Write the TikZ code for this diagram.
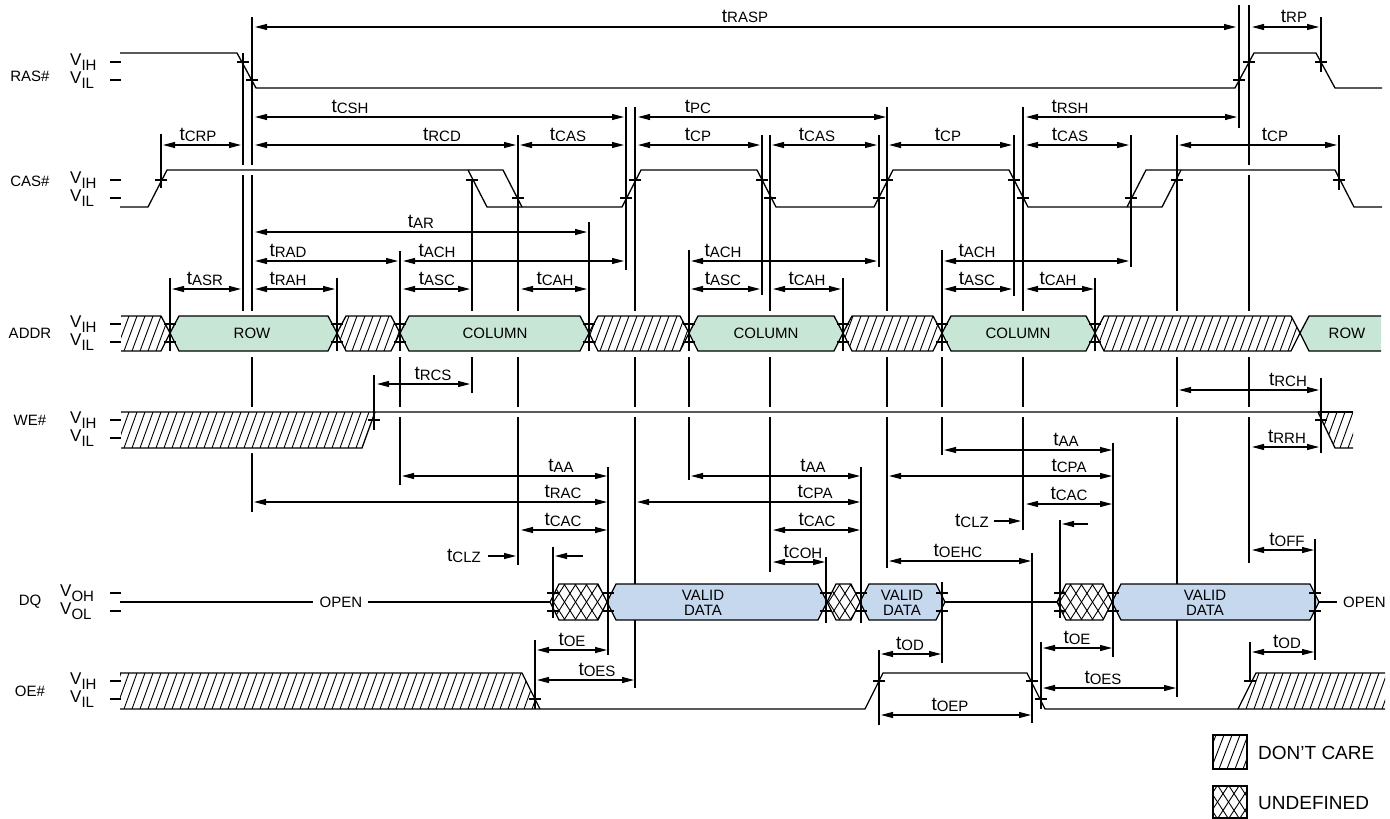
\documentclass[tikz,border=0pt]{standalone}
\usepackage{fontspec}
\setmainfont{Liberation Sans}
\usetikzlibrary{arrows.meta}
\definecolor{AddrGreen}{RGB}{200,230,214}
\definecolor{DataBlue}{RGB}{197,216,238}
\newcommand{\tsub}[1]{{\fontsize{19}{19}\selectfont t}\raisebox{-1pt}{#1}}
\newcommand{\vsub}[1]{{\fontsize{17}{17}\selectfont V}\raisebox{-5pt}{#1}}

\begin{document}
\begin{tikzpicture}[x=1pt, y=-1pt,
    every node/.style={font=\fontsize{15}{15}\selectfont, inner sep=0pt},
    sig/.style={line width=1.3pt},
    refl/.style={line width=1.1pt},
    hl/.style={line width=0.9pt},
    dim/.style={line width=1.1pt, {Triangle[length=12pt,width=6pt]}-{Triangle[length=12pt,width=6pt]}},
    ptr/.style={line width=1.1pt, -{Triangle[length=12pt,width=6pt]}},
    lbl/.style={anchor=base}]
  \useasboundingbox (0,0) rectangle (1390,819);

  % Lineas de referencia
  \foreach \x/\a/\b in {161/134/188, 243/53/311, 252/17/512, 374/375/430, 400/357/485,
      472/180/393, 518/135/565, 626/107/270, 635/107/688, 689/357/480, 762/135/295,
      770/135/572, 879/135/267, 887/107/568, 942/357/455, 942/582/663, 1014/135/296,
      1023/107/530, 1032/553/723, 1060/520/602, 1113/443/657, 1131/135/267,
      1177/135/697, 1239/5/128, 1249/5/563, 1321/17/72, 1321/378/453, 1339/135/190,
      1315/539/660, 1250/642/681, 553/547/602, 608/467/655, 826/557/623,
      861/467/623, 535/640/709, 879/650/725, 1041/642/709}
    \draw[refl] (\x,\a) -- (\x,\b);

  % Huecos
  \draw[white, line width=10pt] (172,170) -- (498,170) (1185,170) -- (1330,170);
  \fill[white] (115,311) rectangle (1386,357);
  \fill[white] (115,407) -- (371,407) -- (357,453) -- (115,453) -- cycle;
  \draw[white, line width=10pt] (381,412) -- (1313,412);

  % RAS#
  \draw[sig] (120,53) -- (237,53) -- (256,88) -- (1235,88) -- (1254,53) -- (1316,53) -- (1335,88) -- (1382,88);

  % CAS#
  \draw[sig] (120,207) -- (148,207) -- (167,170) -- (503,170) -- (522,207) -- (622,207) -- (641,170)
    -- (757,170) -- (776,207) -- (874,207) -- (893,170) -- (1009,170) -- (1028,207) -- (1162,207) -- (1181,170);
  \draw[sig] (468,170) -- (487,207) -- (522,207);
  \draw[sig] (1127,207) -- (1146,170) -- (1335,170) -- (1354,207) -- (1382,207);

  % ADDR
  \begin{scope}
    \clip (121,316) -- (161,316) -- (170,333) -- (161,351) -- (121,351) -- cycle;
    \foreach \x in {100,108,...,190} \draw[hl] (\x,351) -- ++(13,-35);
  \end{scope}
  \draw[sig] (121,316) -- (161,316) -- (170,333) -- (161,351) -- (121,351);
  \foreach \a/\b in {337/400, 589/689, 843/942, 1095/1300} {
    \begin{scope}
      \clip (\a,333) -- (\a+9,316) -- (\b-9,316) -- (\b,333) -- (\b-9,351) -- (\a+9,351) -- cycle;
      \foreach \x in {320,328,...,1310} \draw[hl] (\x,351) -- ++(13,-35);
    \end{scope}
    \draw[sig] (\a,333) -- (\a+9,316) -- (\b-9,316) -- (\b,333) -- (\b-9,351) -- (\a+9,351) -- cycle;
  }
  \foreach \a/\b in {170/337, 400/589, 689/843, 942/1095}
    \filldraw[sig, fill=AddrGreen] (\a,333) -- (\a+9,316) -- (\b-9,316) -- (\b,333) -- (\b-9,351) -- (\a+9,351) -- cycle;
  \fill[AddrGreen] (1381,316) -- (1309,316) -- (1300,333) -- (1309,351) -- (1381,351) -- cycle;
  \draw[sig] (1381,316) -- (1309,316) -- (1300,333) -- (1309,351) -- (1381,351);
  \node (row1) at (252,333) {ROW};
  \node (col1) at (495,333) {COLUMN};
  \node (col2) at (766,333) {COLUMN};
  \node (col3) at (1018,333) {COLUMN};
  \node (row2) at (1347,333) {ROW};

  % WE#
  \begin{scope}
    \clip (121,412) -- (375,412) -- (362,448) -- (121,448) -- cycle;
    \foreach \x in {100,108,...,380} \draw[hl] (\x,448) -- ++(13,-36);
  \end{scope}
  \begin{scope}
    \clip (1318,412) -- (1353,412) -- (1353,448) -- (1335,448) -- cycle;
    \foreach \x in {1300,1308,...,1360} \draw[hl] (\x,448) -- ++(13,-36);
  \end{scope}
  \draw[sig] (121,412) -- (1318,412) -- (1335,448) -- (1353,448);
  \draw[sig] (1318,412) -- (1353,412);
  \draw[sig] (121,448) -- (362,448) -- (375,412);

  % DQ
  \draw[sig] (120,602) -- (313,602) (368,602) -- (550,602) (945,602) -- (1057,602) (1319,602) -- (1337,602);
  \node (open1) at (341,602) {OPEN};
  \node[anchor=west] (open2) at (1343,602) {OPEN};
  \foreach \a/\b in {550/607, 827/860, 1057/1112} {
    \begin{scope}
      \clip (\a,602) -- (\a+9,584) -- (\b-9,584) -- (\b,602) -- (\b-9,620) -- (\a+9,620) -- cycle;
      \foreach \x in {520,531,...,1120} {
        \draw[hl] (\x,620) -- ++(23,-36);
        \draw[hl] (\x,584) -- ++(23,36);
      }
    \end{scope}
    \draw[sig] (\a,602) -- (\a+9,584) -- (\b-9,584) -- (\b,602) -- (\b-9,620) -- (\a+9,620) -- cycle;
  }
  \foreach \a/\b/\c in {607/827/703, 860/945/902, 1112/1319/1205} {
    \filldraw[sig, fill=DataBlue] (\a,602) -- (\a+9,584) -- (\b-9,584) -- (\b,602) -- (\b-9,620) -- (\a+9,620) -- cycle;
    \node[align=center] (data-\a) at (\c,603) {VALID\\DATA};
  }

  % OE#
  \begin{scope}
    \clip (120,673) -- (522,673) -- (540,709) -- (120,709) -- cycle;
    \foreach \x in {100,108,...,545} \draw[hl] (\x,709) -- ++(13,-36);
  \end{scope}
  \begin{scope}
    \clip (1238,709) -- (1256,673) -- (1385,673) -- (1385,709) -- cycle;
    \foreach \x in {1230,1238,...,1390} \draw[hl] (\x,709) -- ++(13,-36);
  \end{scope}
  \draw[sig] (120,673) -- (522,673) -- (540,709);
  \draw[sig] (120,709) -- (865,709) -- (883,673) -- (1027,673) -- (1045,709) -- (1385,709);
  \draw[sig] (1238,709) -- (1256,673) -- (1385,673);

  % Marcas de cruce
  \foreach \x/\a in {170/278, 337/278, 400/251, 589/222, 689/250, 843/278, 942/250, 1095/278} {
    \draw[refl] (\x,\a) -- (\x,351);
    \draw[refl] (\x-6,324) -- (\x+6,324) (\x-6,342) -- (\x+6,342);
  }
  \foreach \x in {553, 608, 826, 861, 942, 1060, 1113, 1315} {
    \draw[refl] (\x,586) -- (\x,618);
    \draw[refl] (\x-6,593) -- (\x+6,593) (\x-6,611) -- (\x+6,611);
  }
  \foreach \x/\y in {243/62, 252/80, 1239/80, 1249/62, 1321/62, 161/180, 472/180, 518/198,
      626/198, 635/180, 762/180, 770/198, 879/198, 887/180, 1014/180, 1023/198, 1131/198,
      1177/180, 1339/180, 374/420, 1321/420, 535/699, 879/681, 1032/681, 1041/699, 1250/681}
    \draw[refl] (\x-6,\y) -- (\x+6,\y);

  % Tiempos
  \foreach \y/\a/\b/\lx/\nm in {27/255/1236/745/RASP, 27/1252/1319/1294/RP,
      117/255/624/350/CSH, 117/638/886/698/PC, 117/1026/1237/1070/RSH,
      145/163/241/198/CRP, 145/255/516/442/RCD, 145/520/624/568/CAS, 145/638/760/698/CP,
      145/772/877/817/CAS, 145/889/1012/948/CP, 145/1026/1129/1070/CAS, 145/1179/1337/1275/CP,
      232/255/587/421/AR, 261/255/398/288/RAD, 261/403/624/437/ACH, 261/691/877/723/ACH,
      261/944/1129/977/ACH, 289/172/241/205/ASR, 289/255/335/288/RAH, 289/403/470/437/ASC,
      289/521/587/555/CAH, 289/691/760/723/ASC, 289/773/841/807/CAH, 289/944/1012/977/ASC,
      289/1026/1094/1058/CAH, 384/377/470/433/RCS, 390/1179/1319/1288/RCH,
      447/1252/1319/1287/RRH, 450/944/1112/1066/AA, 476/402/607/561/AA, 476/691/860/813/AA,
      476/889/1112/1069/CPA, 502/254/607/563/RAC, 502/637/860/815/CPA, 504/1026/1112/1069/CAC,
      530/521/607/563/CAC, 530/773/860/817/CAC, 562/773/825/803/COH, 561/889/1031/958/OEHC,
      550/1252/1314/1287/OFF, 650/537/607/572/OE, 680/537/634/597/OES, 654/881/941/910/OD,
      648/1043/1112/1077/OE, 688/1043/1176/1103/OES, 652/1252/1314/1287/OD, 715/881/1031/950/OEP} {
    \draw[dim] (\a,\y) -- (\b,\y);
    \node[lbl] (t-\nm-\a) at (\lx,\y-5) {\tsub{\nm}};
  }
  \node[anchor=base east] (t-CLZ-1) at (481,561) {\tsub{CLZ}};
  \draw[ptr] (488,556) -- (516,556);
  \draw[ptr] (583,556) -- (555,556);
  \node[anchor=base east] (t-CLZ-2) at (989,526) {\tsub{CLZ}};
  \draw[ptr] (994,521) -- (1021,521);
  \draw[ptr] (1088,524) -- (1062,524);

  % Nombres de senales
  \foreach \y/\nm in {76/RAS\#, 181/CAS\#, 333/ADDR, 420/WE\#, 602/DQ, 691/OE\#}
    \node (sig-\y) at (30,\y) {\nm};
  \foreach \y/\v in {62/IH, 80/IL, 180/IH, 198/IL, 324/IH, 342/IL, 420/IH, 438/IL, 681/IH, 699/IL} {
    \node[anchor=base west] (lv-\y) at (70,\y+3) {\vsub{\v}};
    \draw[refl] (110,\y) -- (121,\y);
  }
  \foreach \y/\v in {593/OH, 611/OL} {
    \node[anchor=base west] (lv-\y) at (60,\y+3) {\vsub{\v}};
    \draw[refl] (110,\y) -- (121,\y);
  }

  % Leyenda
  \begin{scope}
    \clip (1213,735) rectangle (1247,769);
    \foreach \x in {1195,1203,...,1250} \draw[hl] (\x,769) -- ++(13,-34);
  \end{scope}
  \draw[sig] (1213,735) rectangle (1247,769);
  \node[anchor=west, font=\fontsize{19}{19}\selectfont] (leg-dc) at (1258,753) {DON'T CARE};
  \begin{scope}
    \clip (1213,786) rectangle (1247,818);
    \foreach \x in {1185,1196,...,1250} {
      \draw[hl] (\x,818) -- ++(21,-32);
      \draw[hl] (\x,786) -- ++(21,32);
    }
  \end{scope}
  \draw[sig] (1213,786) rectangle (1247,818);
  \node[anchor=west, font=\fontsize{19}{19}\selectfont] (leg-un) at (1258,803) {UNDEFINED};
\end{tikzpicture}
\end{document}
